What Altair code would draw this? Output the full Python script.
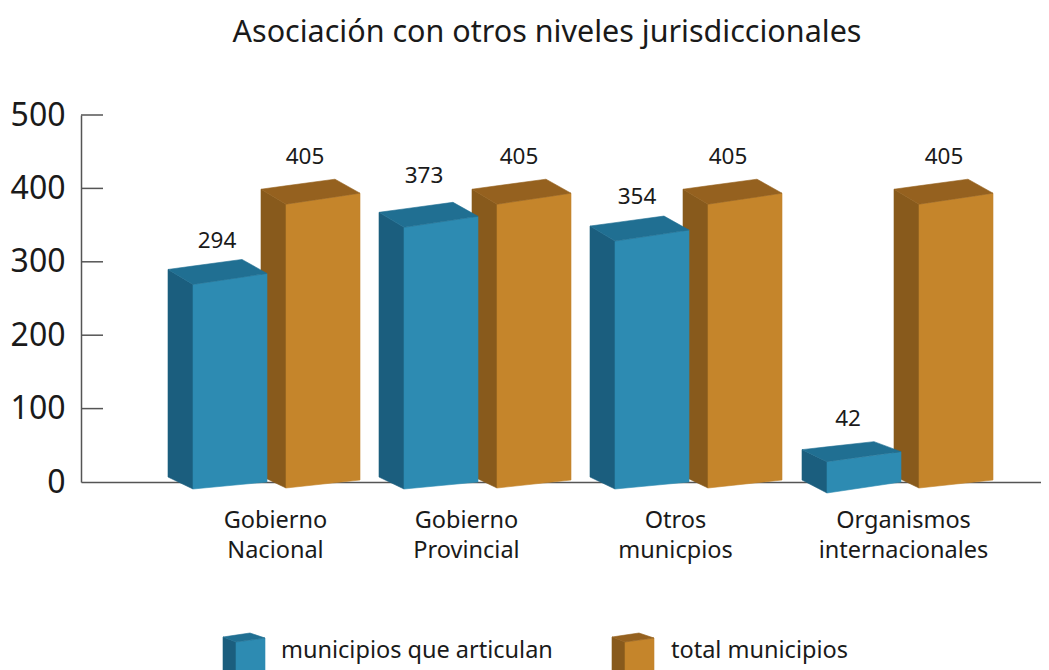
import altair as alt
import pandas as pd

categories = ["Gobierno Nacional", "Gobierno Provincial", "Otros municipios", "Organismos internacionales"]
category_lines = [["Gobierno", "Nacional"], ["Gobierno", "Provincial"], ["Otros", "municpios"], ["Organismos", "internacionales"]]
municipios_que_articulan = [294, 373, 354, 42]
total_municipios = [405, 405, 405, 405]
tick_values = [0, 100, 200, 300, 400, 500]
legend_labels = ["municipios que articulan", "total municipios"]
title_text = "Asociación con otros niveles jurisdiccionales"

BLUE = {"front": "#2d8bb2", "side": "#1b5e7e", "top": "#206f92"}
ORANGE = {"front": "#c5852b", "side": "#885a1c", "top": "#95611f"}
FONT = "Noto Sans"
TEXT = "#1a1a1a"

PX_X = 211.0      # pixels per group
PX_Y = 0.734      # pixels per value unit
X0 = -87 / PX_X   # left of scale
X1 = 873 / PX_X   # right of scale


def ux(px):
    return px / PX_X


def uy(px):
    return px / PX_Y


def box(key, left, top, bottom_back, bottom_front, bottom_right, d=(25, 74, 99), t=(-10, 4, 15)):
    """Return rows for the side, top and front faces of a box, in axis units.
    top is the axis value of the back-left top corner; offsets are px downwards."""
    d1, d2, d3 = ux(d[0]), ux(d[1]), ux(d[2])
    far, right, front = uy(t[0]), uy(t[1]), uy(t[2])
    rows = []
    rows += [dict(key=key, face="side", x=left, y=top, y2=bottom_back),
             dict(key=key, face="side", x=left + d1, y=top - front, y2=bottom_front)]
    rows += [dict(key=key, face="front", x=left + d1, y=top - front, y2=bottom_front),
             dict(key=key, face="front", x=left + d3, y=top - right, y2=bottom_right)]
    frac1 = d[0] / d[1]
    frac2 = (d[1] - d[0]) / (d[2] - d[0])
    rows += [dict(key=key, face="top", x=left, y=top, y2=top),
             dict(key=key, face="top", x=left + d1, y=top - far * frac1, y2=top - front),
             dict(key=key, face="top", x=left + d2, y=top - far, y2=top - front + (front - right) * frac2),
             dict(key=key, face="top", x=left + d3, y=top - right, y2=top - right)]
    return rows


# hand placement of the value labels in the original, in pixels (dx, dy)
nudge_blue = [(2, 5), (-2, -3), (0, 4), (0, 0)]
nudge_orange = [(-3, 1), (0, 1), (-2, 1), (3, 1)]

rows_blue, rows_orange = [], []
labels = []
for i, cat in enumerate(categories):
    vb = municipios_que_articulan[i]
    vo = total_municipios[i]
    short = vb < 100
    rows_blue += box(f"b{i}", i + ux(1 if short else 0), vb * 0.985 + uy(2 if short else 0), uy(2 if short else 5),
                     uy(-7 if not short else -11), 0,
                     d=(25, 72 if short else 74, 99), t=(-8, 2, 12) if short else (-10, 4, 15))
    rows_orange += box(f"o{i}", i + 93 / PX_X, vo * 0.985, uy(6), uy(-6), uy(2))
    labels.append(dict(x=i + ux(47 + nudge_blue[i][0]), y=vb * 0.985 - uy(nudge_blue[i][1]), text=str(vb)))
    labels.append(dict(x=i + 93 / PX_X + ux(47 + nudge_orange[i][0]), y=vo * 0.985 - uy(nudge_orange[i][1]), text=str(vo)))

LEG_Y = uy(482 - 637)
LEG_BOTTOM = uy(482 - 690)
legend_x = [ux(223 - 168), ux(612 - 168)]
rows_blue += box("lb", legend_x[0], LEG_Y, LEG_BOTTOM, LEG_BOTTOM, LEG_BOTTOM, d=(13, 27, 42), t=(-4, 1, 5))
rows_orange += box("lo", legend_x[1], LEG_Y, LEG_BOTTOM, LEG_BOTTOM, LEG_BOTTOM, d=(13, 27, 42), t=(-4, 1, 5))
legend_rows = [dict(x=ux(281 - 168), y=uy(482 - 651), text=legend_labels[0]),
               dict(x=ux(671 - 168), y=uy(482 - 651), text=legend_labels[1])]

df_blue = pd.DataFrame(rows_blue)
df_orange = pd.DataFrame(rows_orange)

xs = alt.Scale(domain=[X0, X1], nice=False, zero=False)
ys = alt.Scale(domain=[0, 500], nice=False, zero=False)

label_pos = [ux(275 - 168), ux(466 - 168), ux(675 - 168), ux(903 - 168)]
label_expr = f"{category_lines}[indexof({label_pos}, datum.value)]"

x_enc = alt.X("x:Q", scale=xs, axis=alt.Axis(
    values=label_pos, labelExpr=label_expr, title=None, grid=False, ticks=False,
    domainColor="#555555", domainWidth=1.5, labelFont=FONT, labelFontSize=23.5,
    labelColor=TEXT, labelPadding=26, labelOverlap=False, labelFlush=False,
    labelAngle=0, labelLineHeight=30, labelBaseline="top"))
y_enc = alt.Y("y:Q", scale=ys, stack=None, axis=alt.Axis(
    values=tick_values, title=None, grid=False, ticks=False, domainColor="#555555",
    domainWidth=1.5, labelFont=FONT, labelFontSize=32, labelColor=TEXT, labelPadding=16,
    format="d"))

layers = []
ticks_df = pd.DataFrame({"x": X0, "x2": X0 + ux(22), "y": tick_values[1:]})
layers.append(alt.Chart(ticks_df).mark_rule(color="#555555", strokeWidth=1.5).encode(
    x=x_enc, x2="x2:Q", y=y_enc))

for df, pal in [(df_orange, ORANGE), (df_blue, BLUE)]:
    for face in ["side", "front", "top"]:
        layers.append(alt.Chart(df[df.face == face]).mark_area(
            color=pal[face], stroke=pal[face], strokeWidth=0.6, interpolate="linear").encode(
            x=x_enc, y=y_enc, y2="y2:Q", detail="key:N"))

layers.append(alt.Chart(pd.DataFrame(labels)).mark_text(
    font=FONT, fontSize=22.5, color=TEXT, dy=-33, baseline="middle", align="center").encode(
    x=x_enc, y=y_enc, text="text:N"))
layers.append(alt.Chart(pd.DataFrame(legend_rows)).mark_text(
    font=FONT, fontSize=23.5, color=TEXT, baseline="middle", align="left").encode(
    x=x_enc, y=y_enc, text="text:N"))

chart = alt.layer(*layers).properties(
    width=960, height=367,
    padding={"left": 73, "top": 107, "right": 0, "bottom": 188},
    autosize=alt.AutoSizeParams(type="none"),
    title=alt.TitleParams(title_text, font=FONT, fontSize=30.5, fontWeight="normal", color=TEXT,
                          anchor="middle", dx=-14, offset=51),
    background="white",
).configure_view(stroke=None)

chart.save("out.html", embed_options={"renderer": "svg", "actions": False})
